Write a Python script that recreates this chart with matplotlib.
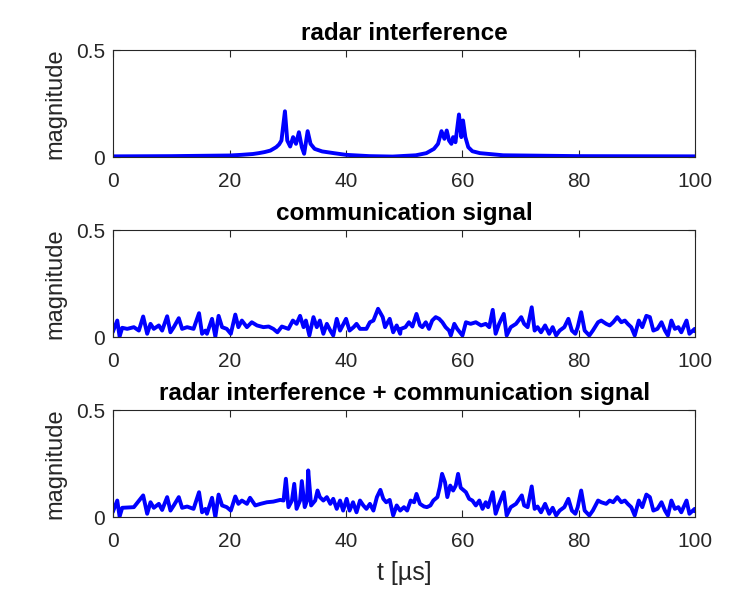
import matplotlib
matplotlib.use("Agg")
import matplotlib.pyplot as plt

# ---------------- data ----------------
t_radar = [0, 10, 20, 22, 24, 25, 26, 27, 28, 28.5, 28.9, 29.5, 29.9, 30.4, 30.9, 31.4, 31.9,
           32.4, 32.8, 33.4, 33.9, 34.6, 35.9, 37.9, 40, 44, 48, 52, 53.8, 55.1, 55.8, 56.4,
           56.9, 57.3, 57.7, 58.1, 58.4, 58.8, 59.4, 59.8, 60.1, 60.5, 61.0, 61.7, 63, 67, 80, 100]
v_radar = [0.004, 0.005, 0.008, 0.011, 0.015, 0.019, 0.024, 0.031, 0.047, 0.06, 0.078, 0.215,
           0.078, 0.05, 0.094, 0.0625, 0.117, 0.047, 0.016, 0.122, 0.0625, 0.039, 0.027, 0.019,
           0.011, 0.005, 0.003, 0.009, 0.019, 0.039, 0.0625, 0.122, 0.086, 0.125, 0.078, 0.0625,
           0.094, 0.07, 0.2, 0.094, 0.172, 0.094, 0.047, 0.028, 0.019, 0.009, 0.005, 0.004]

t_comm = [0, 0.69, 1.09, 1.54, 2.4, 3.54, 4.4, 5.14, 5.83, 6.4, 6.97, 7.83, 8.4, 9.26, 9.83,
          10.4, 11.26, 11.83, 12.7, 13.8, 14.74, 15.26, 15.83, 16.1, 16.97, 17.54, 18.1, 18.7,
          19.5, 20.2, 20.97, 21.5, 22.1, 22.97, 23.8, 24.7, 25.8, 26.7, 27.5, 28.2, 28.97, 30.1,
          30.86, 31.5, 32.1, 32.7, 33.1, 33.7, 34.4, 34.97, 35.5, 36.1, 36.7, 37.3, 37.8, 38.4,
          38.97, 40.0, 40.6, 41.3, 41.8, 42.4, 43.5, 44.1, 44.7, 45.5, 46.3, 46.7, 47.5, 48.1,
          48.7, 49.3, 49.4, 50.2, 50.8, 51.4, 52.1, 52.7, 53.1, 53.7, 54.25, 54.8, 55.4, 56.0,
          56.55, 57.1, 57.7, 58.0, 58.6, 59.1, 60.0, 60.6, 61.4, 62.3, 63.2, 64.0, 64.6, 65.2,
          65.7, 66.3, 67.1, 67.6, 68.3, 69.2, 70.1, 70.6, 71.2, 71.9, 72.4, 72.9, 73.5, 74.2,
          74.9, 75.5, 76.1, 76.7, 77.5, 78.2, 78.8, 79.4, 79.8, 80.4, 81.0, 81.8, 82.4, 83.3,
          83.85, 84.7, 85.3, 85.9, 86.6, 87.3, 87.9, 88.4, 89.0, 89.6, 90.3, 90.9, 91.6, 92.2,
          92.8, 93.5, 94.2, 94.8, 95.3, 95.9, 96.5, 97.1, 97.6, 98.5, 99.0, 99.9, 100]
v_comm = [0.03, 0.078, 0.003, 0.044, 0.039, 0.047, 0.031, 0.097, 0.016, 0.0625, 0.039, 0.055,
          0.031, 0.098, 0.023, 0.047, 0.089, 0.039, 0.047, 0.039, 0.1125, 0.016, 0.031, 0.016,
          0.086, 0.003, 0.10, 0.047, 0.039, 0.016, 0.106, 0.047, 0.078, 0.047, 0.07, 0.055,
          0.047, 0.05, 0.039, 0.023, 0.05, 0.039, 0.078, 0.0625, 0.10, 0.047, 0.078, 0.008,
          0.094, 0.047, 0.078, 0.016, 0.0625, 0.031, 0.008, 0.086, 0.031, 0.086, 0.031, 0.047,
          0.0625, 0.039, 0.039, 0.07, 0.078, 0.133, 0.094, 0.047, 0.086, 0.023, 0.055, 0.016,
          0.039, 0.047, 0.07, 0.05, 0.109, 0.055, 0.047, 0.07, 0.039, 0.078, 0.094, 0.086,
          0.07, 0.047, 0.031, 0.008, 0.0625, 0.039, 0.008, 0.07, 0.0625, 0.07, 0.055, 0.0625,
          0.047, 0.128, 0.016, 0.0625, 0.109, 0.008, 0.047, 0.0625, 0.094, 0.0625, 0.047, 0.14,
          0.031, 0.047, 0.023, 0.055, 0.016, 0.047, 0.008, 0.031, 0.047, 0.086, 0.031, 0.016,
          0.047, 0.117, 0.031, 0.008, 0.031, 0.07, 0.078, 0.0625, 0.055, 0.07, 0.094, 0.07,
          0.078, 0.0625, 0.047, 0.008, 0.078, 0.047, 0.10, 0.094, 0.031, 0.039, 0.07, 0.031,
          0.008, 0.078, 0.039, 0.047, 0.023, 0.078, 0.016, 0.039, 0.03]

t_sum = [0, 0.69, 1.09, 1.54, 3.54, 5.14, 5.83, 6.4, 6.97, 7.83, 8.4, 9.26, 9.83, 10.4, 11.26,
         11.83, 12.7, 13.8, 14.74, 15.26, 15.83, 16.1, 16.97, 17.54, 18.1, 18.7, 19.5, 20.2,
         20.97, 21.5, 22.1, 22.97, 23.5, 24.4, 25.3, 26.4, 27.5, 28.7, 29.26, 29.66, 30.1, 30.7,
         31.1, 31.5, 32.1, 32.4, 32.9, 33.3, 33.5, 34.0, 34.7, 35.1, 35.5, 36.1, 36.7, 37.3,
         37.8, 38.4, 38.97, 39.5, 40.1, 40.6, 41.2, 41.8, 42.4, 42.97, 43.5, 44.1, 44.7, 45.3,
         45.9, 46.4, 46.9, 47.5, 48.1, 48.7, 49.3, 49.95, 50.5, 51.1, 51.7, 52.1, 52.7, 53.4,
         53.9, 54.5, 55.0, 55.7, 56.1, 56.5, 57.0, 57.4, 57.9, 58.4, 58.85, 59.25, 59.7, 60.6,
         61.15, 61.7, 62.3, 62.9, 63.45, 64.0, 64.4, 65.2, 65.7, 66.3, 67.1, 67.6, 68.3, 69.2,
         70.2, 70.6, 71.2, 71.9, 72.4, 72.9, 73.5, 74.2, 74.9, 75.5, 76.1, 76.7, 77.5, 78.2,
         78.8, 79.4, 79.8, 80.4, 81.0, 81.8, 82.4, 83.3, 83.85, 84.7, 85.3, 85.9, 86.6, 87.3,
         87.9, 88.4, 89.0, 89.6, 90.3, 90.9, 91.6, 92.2, 92.8, 93.5, 94.2, 94.8, 95.3, 95.9,
         96.5, 97.1, 97.6, 98.5, 99.0, 99.9, 100]
v_sum = [0.03, 0.078, 0.003, 0.044, 0.047, 0.102, 0.016, 0.07, 0.044, 0.0625, 0.034, 0.094,
         0.031, 0.055, 0.094, 0.044, 0.05, 0.039, 0.117, 0.023, 0.039, 0.016, 0.091, 0.0,
         0.106, 0.055, 0.047, 0.031, 0.097, 0.0625, 0.078, 0.0625, 0.091, 0.055, 0.0625, 0.07,
         0.073, 0.081, 0.078, 0.18, 0.047, 0.078, 0.156, 0.039, 0.078, 0.169, 0.047, 0.078,
         0.219, 0.055, 0.078, 0.125, 0.094, 0.078, 0.094, 0.0625, 0.086, 0.039, 0.078, 0.031,
         0.086, 0.031, 0.07, 0.023, 0.078, 0.055, 0.039, 0.0625, 0.031, 0.094, 0.128, 0.086,
         0.07, 0.081, 0.008, 0.055, 0.031, 0.047, 0.031, 0.078, 0.07, 0.109, 0.0625, 0.05,
         0.047, 0.055, 0.078, 0.094, 0.14, 0.203, 0.164, 0.094, 0.148, 0.125, 0.148, 0.203,
         0.138, 0.117, 0.086, 0.078, 0.055, 0.078, 0.039, 0.07, 0.047, 0.117, 0.016, 0.0625,
         0.117, 0.008, 0.047, 0.0625, 0.102, 0.055, 0.047, 0.144, 0.039, 0.05, 0.023, 0.0625,
         0.016, 0.044, 0.008, 0.031, 0.047, 0.086, 0.031, 0.016, 0.047, 0.125, 0.031, 0.008,
         0.031, 0.078, 0.07, 0.0625, 0.078, 0.07, 0.094, 0.07, 0.078, 0.0625, 0.047, 0.008,
         0.078, 0.047, 0.106, 0.094, 0.031, 0.039, 0.07, 0.031, 0.008, 0.078, 0.039, 0.047,
         0.023, 0.078, 0.016, 0.039, 0.03]

titles = ["radar interference", "communication signal",
          "radar interference + communication signal"]
x_ticks = [0, 20, 40, 60, 80, 100]
y_ticks = [0, 0.5]
y_tick_labels = ["0", "0.5"]
y_label = "magnitude"
x_label = "t [\u00b5s]"

# ---------------- figure ----------------
plt.rcParams['font.family'] = ['Liberation Sans', 'DejaVu Sans']
fig = plt.figure(figsize=(7.5, 6), dpi=100)
fig.patch.set_facecolor('white')

dark = (0.15, 0.15, 0.15)
series = [(t_radar, v_radar), (t_comm, v_comm), (t_sum, v_sum)]
bottoms = [0.738, 0.438, 0.138]
for k, ((t, v), ttl, b) in enumerate(zip(series, titles, bottoms)):
    ax = fig.add_axes([0.151, b, 0.776, 0.178])
    ax.plot(t, v, color=(0, 0, 1), lw=2.8, solid_joinstyle='round')
    ax.set_xlim(0, 100)
    ax.set_ylim(0, 0.5)
    ax.set_xticks(x_ticks)
    ax.set_yticks(y_ticks)
    ax.set_yticklabels(y_tick_labels)
    ax.tick_params(direction='in', length=5, width=0.8, top=True, right=True,
                   labelsize=15, colors=dark)
    ax.tick_params(axis='x', pad=11)
    ax.tick_params(axis='y', pad=6)
    for s in ax.spines.values():
        s.set_color(dark)
        s.set_linewidth(0.8)
    ax.set_title(ttl, fontsize=17.5, fontweight='bold', color='black', pad=7.5)
    ax.set_ylabel(y_label, fontsize=17, color=dark)
    ax.yaxis.set_label_coords(-0.08, 0.5)
    if k == 2:
        ax.set_xlabel(x_label, fontsize=18, color=dark, labelpad=7)

fig.savefig("out.png", dpi=100)
